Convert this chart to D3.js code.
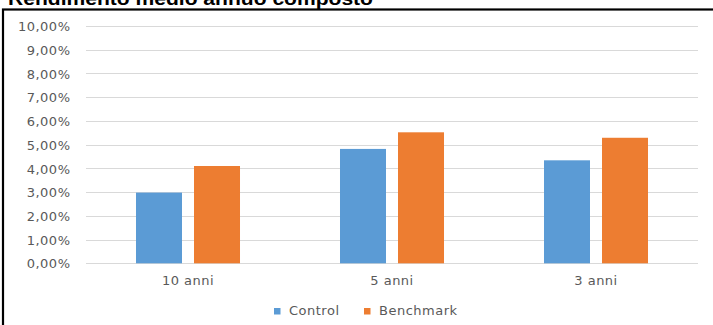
<!DOCTYPE html>
<html>
<head>
<meta charset="utf-8">
<script src="https://cdn.jsdelivr.net/npm/d3@7"></script>
<style>
  html, body { margin: 0; padding: 0; background: #fff; }
  svg { display: block; }
  .lbl { font-family: "DejaVu Sans", sans-serif; font-size: 13px; fill: #595959; letter-spacing: 0.5px; }
</style>
</head>
<body>
<script>
const title = "Rendimento medio annuo composto";
const categories = ["10 anni", "5 anni", "3 anni"];
const seriesNames = ["Control", "Benchmark"];
const controlValues = [0.0298, 0.0482, 0.0434];
const benchmarkValues = [0.0410, 0.0552, 0.0529];
const yTicks = [0, 0.01, 0.02, 0.03, 0.04, 0.05, 0.06, 0.07, 0.08, 0.09, 0.10];
const colors = ["#5B9BD5", "#ED7D31"];

const W = 713, H = 325;
const plot = { left: 86, right: 698, top: 26, bottom: 263.3 };

const svg = d3.select("body").append("svg").attr("width", W).attr("height", H);

// frame
svg.append("rect")
  .attr("x", 3).attr("y", 9.5).attr("width", 730).attr("height", 340)
  .attr("fill", "none").attr("stroke", "#000").attr("stroke-width", 2.2);

// title
svg.append("text")
  .attr("x", 8).attr("y", 4.5)
  .attr("font-family", "Liberation Sans, Arial, sans-serif")
  .attr("font-weight", "bold").attr("font-size", 18)
  .attr("textLength", 365).attr("lengthAdjust", "spacingAndGlyphs")
  .attr("fill", "#000")
  .text(title);

const y = d3.scaleLinear().domain([0, 0.10]).range([plot.bottom, plot.top]);
const x0 = d3.scaleBand().domain(categories).range([plot.left, plot.right]).padding(0);
const x1 = d3.scaleBand().domain(seriesNames).range([0, x0.bandwidth()])
  .paddingInner(12 / 58).paddingOuter(0.862);

const fmt = v => (v * 100).toFixed(2).replace(".", ",") + "%";

// grid
svg.append("g").selectAll("line").data(yTicks).join("line")
  .attr("x1", plot.left).attr("x2", plot.right)
  .attr("y1", d => Math.round(y(d)) + 0.5).attr("y2", d => Math.round(y(d)) + 0.5)
  .attr("stroke", "#d9d9d9").attr("stroke-width", 1);

// y axis labels
const yAxis = d3.axisLeft(y).tickValues(yTicks).tickFormat(fmt).tickSize(0).tickPadding(0);
const gy = svg.append("g").attr("transform", `translate(${plot.left - 15.5},0)`).call(yAxis);
gy.select(".domain").remove();
gy.selectAll("text").attr("class", "lbl").attr("font-family", null).attr("font-size", null)
  .attr("dy", "0.36em");

// bars
const rows = categories.map((c, i) => ({ cat: c, vals: [controlValues[i], benchmarkValues[i]] }));
const groups = svg.append("g").selectAll("g").data(rows).join("g")
  .attr("transform", d => `translate(${x0(d.cat)},0)`);
groups.selectAll("rect").data(d => d.vals.map((v, j) => ({ s: seriesNames[j], v, j })))
  .join("rect")
  .attr("x", d => x1(d.s))
  .attr("width", x1.bandwidth())
  .attr("y", d => y(d.v))
  .attr("height", d => y(0) - y(d.v))
  .attr("fill", d => colors[d.j]);

// x axis labels
const xAxis = d3.axisBottom(x0).tickSize(0).tickPadding(0);
const gx = svg.append("g").attr("transform", `translate(0,${plot.bottom + 21.5})`).call(xAxis);
gx.select(".domain").remove();
gx.selectAll("text").attr("class", "lbl").attr("font-family", null).attr("font-size", null)
  .attr("dy", 0);

// legend
const legendX = [274, 364];
const lg = svg.append("g").selectAll("g").data(seriesNames).join("g")
  .attr("transform", (d, i) => `translate(${legendX[i]},308)`);
lg.append("rect").attr("width", 6.5).attr("height", 6.5).attr("fill", (d, i) => colors[i]);
lg.append("text").attr("class", "lbl").attr("x", 15).attr("y", 7).text(d => d);
</script>
</body>
</html>
